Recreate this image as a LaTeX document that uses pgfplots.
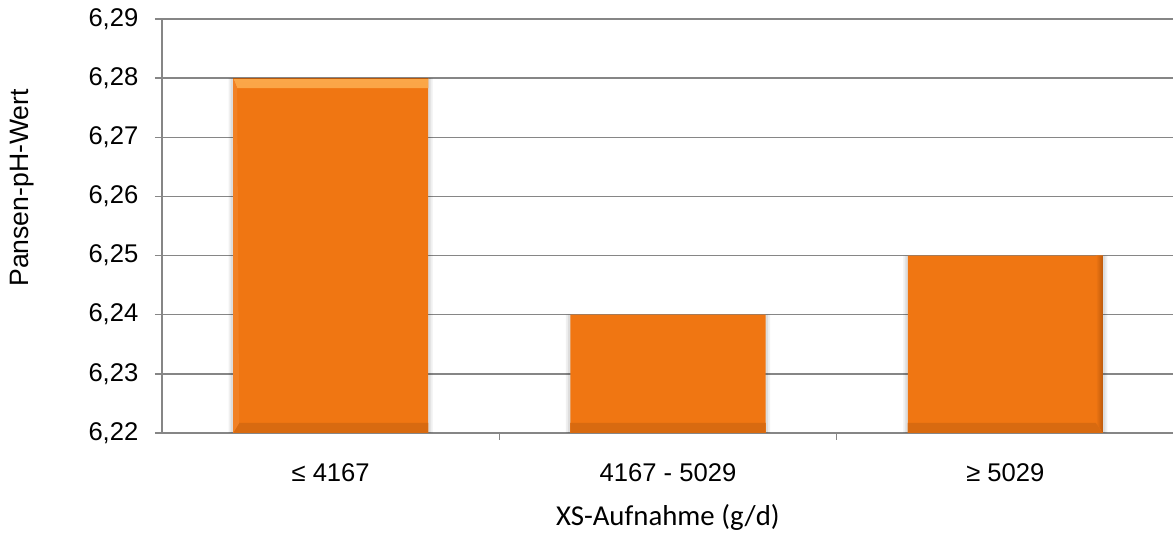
\documentclass[border=0pt]{standalone}
\usepackage{pgfplots}
\usepackage{pgfplotstable}
\pgfplotsset{compat=1.18}
\usepackage{fontspec}
\setmainfont{Liberation Sans}
\newfontfamily\carlito{Carlito}

\definecolor{barorange}{HTML}{F07612}
\definecolor{barlight}{HTML}{FBA748}
\definecolor{bardark}{HTML}{BC5A0C}
\definecolor{barbottom}{HTML}{D86A10}
\definecolor{axisgray}{HTML}{868686}

% bevelled bar: light top edge, darker right and bottom edges
\tikzset{
  nopp/.style={path picture={}},
  bevel/.style={path picture={
  \shade[nopp, top color=barlight, bottom color=barorange]
    (path picture bounding box.north west) -- (path picture bounding box.north east)
    -- ([xshift=-4pt,yshift=-5pt]path picture bounding box.north east)
    -- ([xshift=2pt,yshift=-5pt]path picture bounding box.north west) -- cycle;
  \shade[nopp, left color=barorange, right color=bardark]
    (path picture bounding box.north east) -- (path picture bounding box.south east)
    -- ([xshift=-3.5pt,yshift=5pt]path picture bounding box.south east)
    -- ([xshift=-3.5pt,yshift=-5pt]path picture bounding box.north east) -- cycle;
  \shade[nopp, top color=barorange!90!black, bottom color=barbottom]
    (path picture bounding box.south west) -- (path picture bounding box.south east)
    -- ([xshift=-3.5pt,yshift=5pt]path picture bounding box.south east)
    -- ([xshift=3pt,yshift=5pt]path picture bounding box.south west) -- cycle;
  \fill[nopp, barorange!92!white]
    (path picture bounding box.north west)
    -- ([xshift=2pt,yshift=-5pt]path picture bounding box.north west)
    -- ([xshift=3pt,yshift=5pt]path picture bounding box.south west)
    -- (path picture bounding box.south west) -- cycle;
  \draw[nopp, barorange!75!black, line width=0.6pt]
    (path picture bounding box.north west) -- (path picture bounding box.north east);
}}}

\pgfplotstableread{
x ph
0 6.28
1 6.24
2 6.25
}\phdata

\begin{document}
\begin{tikzpicture}
\begin{axis}[
  name=ax,
  scale only axis,
  width=506pt, height=207pt,
  xmin=-0.5, xmax=2.5,
  ymin=0, ymax=0.07,
  scaled y ticks=false,
  ytick={0,0.01,0.02,0.03,0.04,0.05,0.06,0.07},
  yticklabels={{6,22},{6,23},{6,24},{6,25},{6,26},{6,27},{6,28},{6,29}},
  xtick={0,1,2},
  xticklabels={≤ 4167, 4167 - 5029, ≥ 5029},
  xtick style={draw=none},
  extra x ticks={0.5,1.5},
  extra x tick labels={},
  extra x tick style={xtick style={draw=axisgray, line width=0.75pt}, grid=none},
  axis x line*=bottom,
  axis y line*=left,
  axis line style={draw=axisgray, line width=0.9pt},
  tick align=outside,
  major tick length=3.5pt,
  ytick style={draw=axisgray, line width=0.75pt},
  ymajorgrids,
  grid style={draw=axisgray, line width=0.75pt},
  tick label style={font=\fontsize{12.8}{15}\selectfont, text=black},
  xticklabel style={anchor=base, yshift=-21pt},
  yticklabel style={xshift=-4.8pt},
  xlabel={\carlito XS-Aufnahme (g/d)},
  xlabel style={font=\fontsize{14.4}{17}\selectfont, at={(rel axis cs:0.5,0)},
    anchor=base, yshift=-46.5pt},
  ylabel={Pansen-pH-Wert},
  ylabel style={font=\fontsize{13.3}{16}\selectfont,
    at={([xshift=-70pt]rel axis cs:0,0.592)}, anchor=center},
  ybar,
  bar width=97.5pt,
  clip=false,
]
% soft side shadow behind the bars
\addplot[fill=black, fill opacity=0.06, draw=none, bar shift=0pt, bar width=102pt]
  table[x=x, y expr=\thisrow{ph}-6.22] {\phdata};
\addplot[fill=black, fill opacity=0.08, draw=none, bar shift=0pt, bar width=100pt]
  table[x=x, y expr=\thisrow{ph}-6.22] {\phdata};
% bars
\addplot[fill=barorange, draw=none, bar shift=0pt, bevel]
  table[x=x, y expr=\thisrow{ph}-6.22] {\phdata};
\end{axis}
\pgfresetboundingbox
\path[use as bounding box] ([xshift=-81pt,yshift=-50pt]ax.south west)
  rectangle ([xshift=-0.5pt,yshift=9.5pt]ax.north east);
\end{tikzpicture}
\end{document}
